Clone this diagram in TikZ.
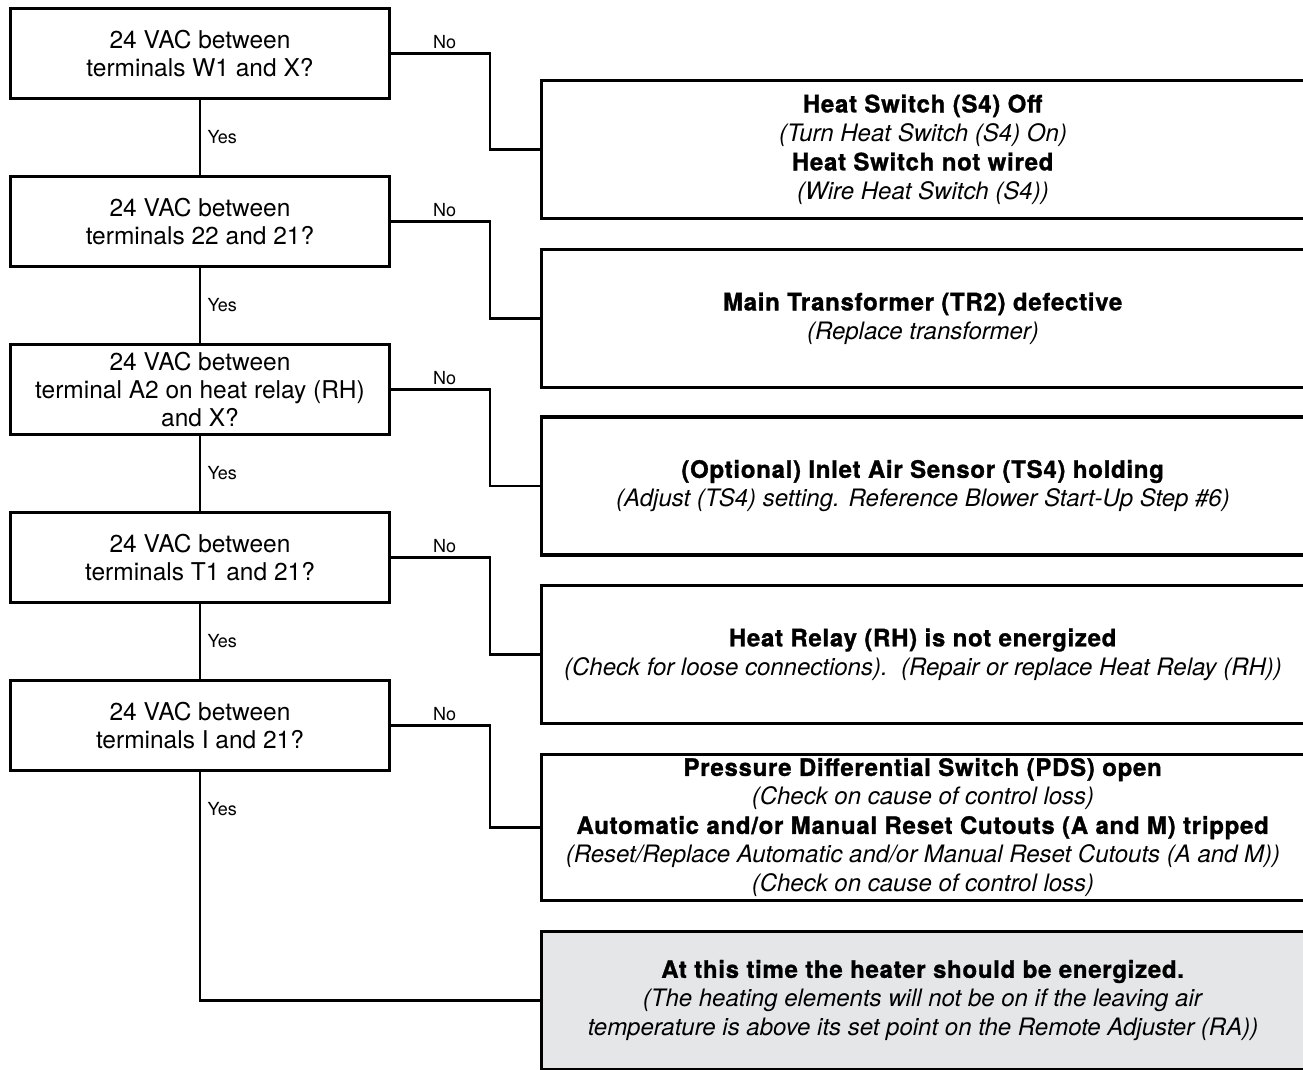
\documentclass[tikz,border=0pt]{standalone}
\usepackage{fontspec}
\setmainfont{TeX Gyre Heros}[BoldFeatures={FakeBold=1.2, LetterSpace=3}]
\usepackage{xcolor}
\usepackage{tikz}
\usetikzlibrary{positioning}

\definecolor{donegray}{RGB}{229,230,232}

\begin{document}
\begin{tikzpicture}[x=1pt, y=-1pt,
        question/.style={rectangle, draw, line width=3.2pt, minimum width=379pt, minimum height=90pt, align=center, font=\fontsize{24.5}{28}\selectfont},
        answer/.style={rectangle, draw, line width=3.2pt, minimum width=763pt, minimum height=138pt, align=center, font=\fontsize{24}{29}\selectfont},
        link/.style={line width=2.4pt},
        tag/.style={font=\fontsize{18}{20}\selectfont},
    ]
        \useasboundingbox (0,0) rectangle (1303,1070);
        \clip (0,0) rectangle (1303,1070);

        % Questions
        \node[question] (q1) at (200,53.5) {24 VAC between\\terminals W1 and X?};
        \node[question] (q2) at (200,221.5) {24 VAC between\\terminals 22 and 21?};
        \node[question] (q3) at (200,389.5) {24 VAC between\\terminal A2 on heat relay (RH)\\and X?};
        \node[question] (q4) at (200,557.5) {24 VAC between\\terminals T1 and 21?};
        \node[question] (q5) at (200,725.5) {24 VAC between\\terminals I and 21?};

        % Answers
        \node[answer] (r1) at (923,149.5) {\textbf{Heat Switch (S4) Off}\\\textit{(Turn Heat Switch (S4) On)}\\\textbf{Heat Switch not wired}\\\textit{(Wire Heat Switch (S4))}};
        \node[answer] (r2) at (923,318.5) {\textbf{Main Transformer (TR2) defective}\\\textit{(Replace transformer)}};
        \node[answer] (r3) at (923,486) {\textbf{(Optional) Inlet Air Sensor (TS4) holding}\\\textit{(Adjust (TS4) setting. Reference Blower Start-Up Step \#6)}};
        \node[answer] (r4) at (923,654.5) {\textbf{Heat Relay (RH) is not energized}\\\textit{(Check for loose connections).\ \ (Repair or replace Heat Relay (RH))}};
        \node[answer, minimum height=146pt] (r5) at (923,827.5) {\textbf{Pressure Differential Switch (PDS) open}\\\textit{(Check on cause of control loss)}\\\textbf{Automatic and/or Manual Reset Cutouts (A and M) tripped}\\\textit{(Reset/Replace Automatic and/or Manual Reset Cutouts (A and M))}\\\textit{(Check on cause of control loss)}};
        \node[answer, fill=donegray] (r6) at (923,1000.5) {\textbf{At this time the heater should be energized.}\\\textit{(The heating elements will not be on if the leaving air}\\\textit{temperature is above its set point on the Remote Adjuster (RA))}};

        % Yes branches
        \draw[link] (q1) -- (q2) node[tag, midway, right, xshift=3pt] {Yes};
        \draw[link] (q2) -- (q3) node[tag, midway, right, xshift=3pt] {Yes};
        \draw[link] (q3) -- (q4) node[tag, midway, right, xshift=3pt] {Yes};
        \draw[link] (q4) -- (q5) node[tag, midway, right, xshift=3pt] {Yes};
        \draw[link] (q5.south) |- (r6.west) node[tag, pos=0.08, right, xshift=3pt] {Yes};

        % No branches
        \draw[link] (q1.east) -- ++(99,0) node[tag, midway, above, xshift=4pt] {No} |- (r1.west);
        \draw[link] (q2.east) -- ++(99,0) node[tag, midway, above, xshift=4pt] {No} |- (r2.west);
        \draw[link] (q3.east) -- ++(99,0) node[tag, midway, above, xshift=4pt] {No} |- (r3.west);
        \draw[link] (q4.east) -- ++(99,0) node[tag, midway, above, xshift=4pt] {No} |- (r4.west);
        \draw[link] (q5.east) -- ++(99,0) node[tag, midway, above, xshift=4pt] {No} |- (r5.west);
    \end{tikzpicture}
\end{document}
